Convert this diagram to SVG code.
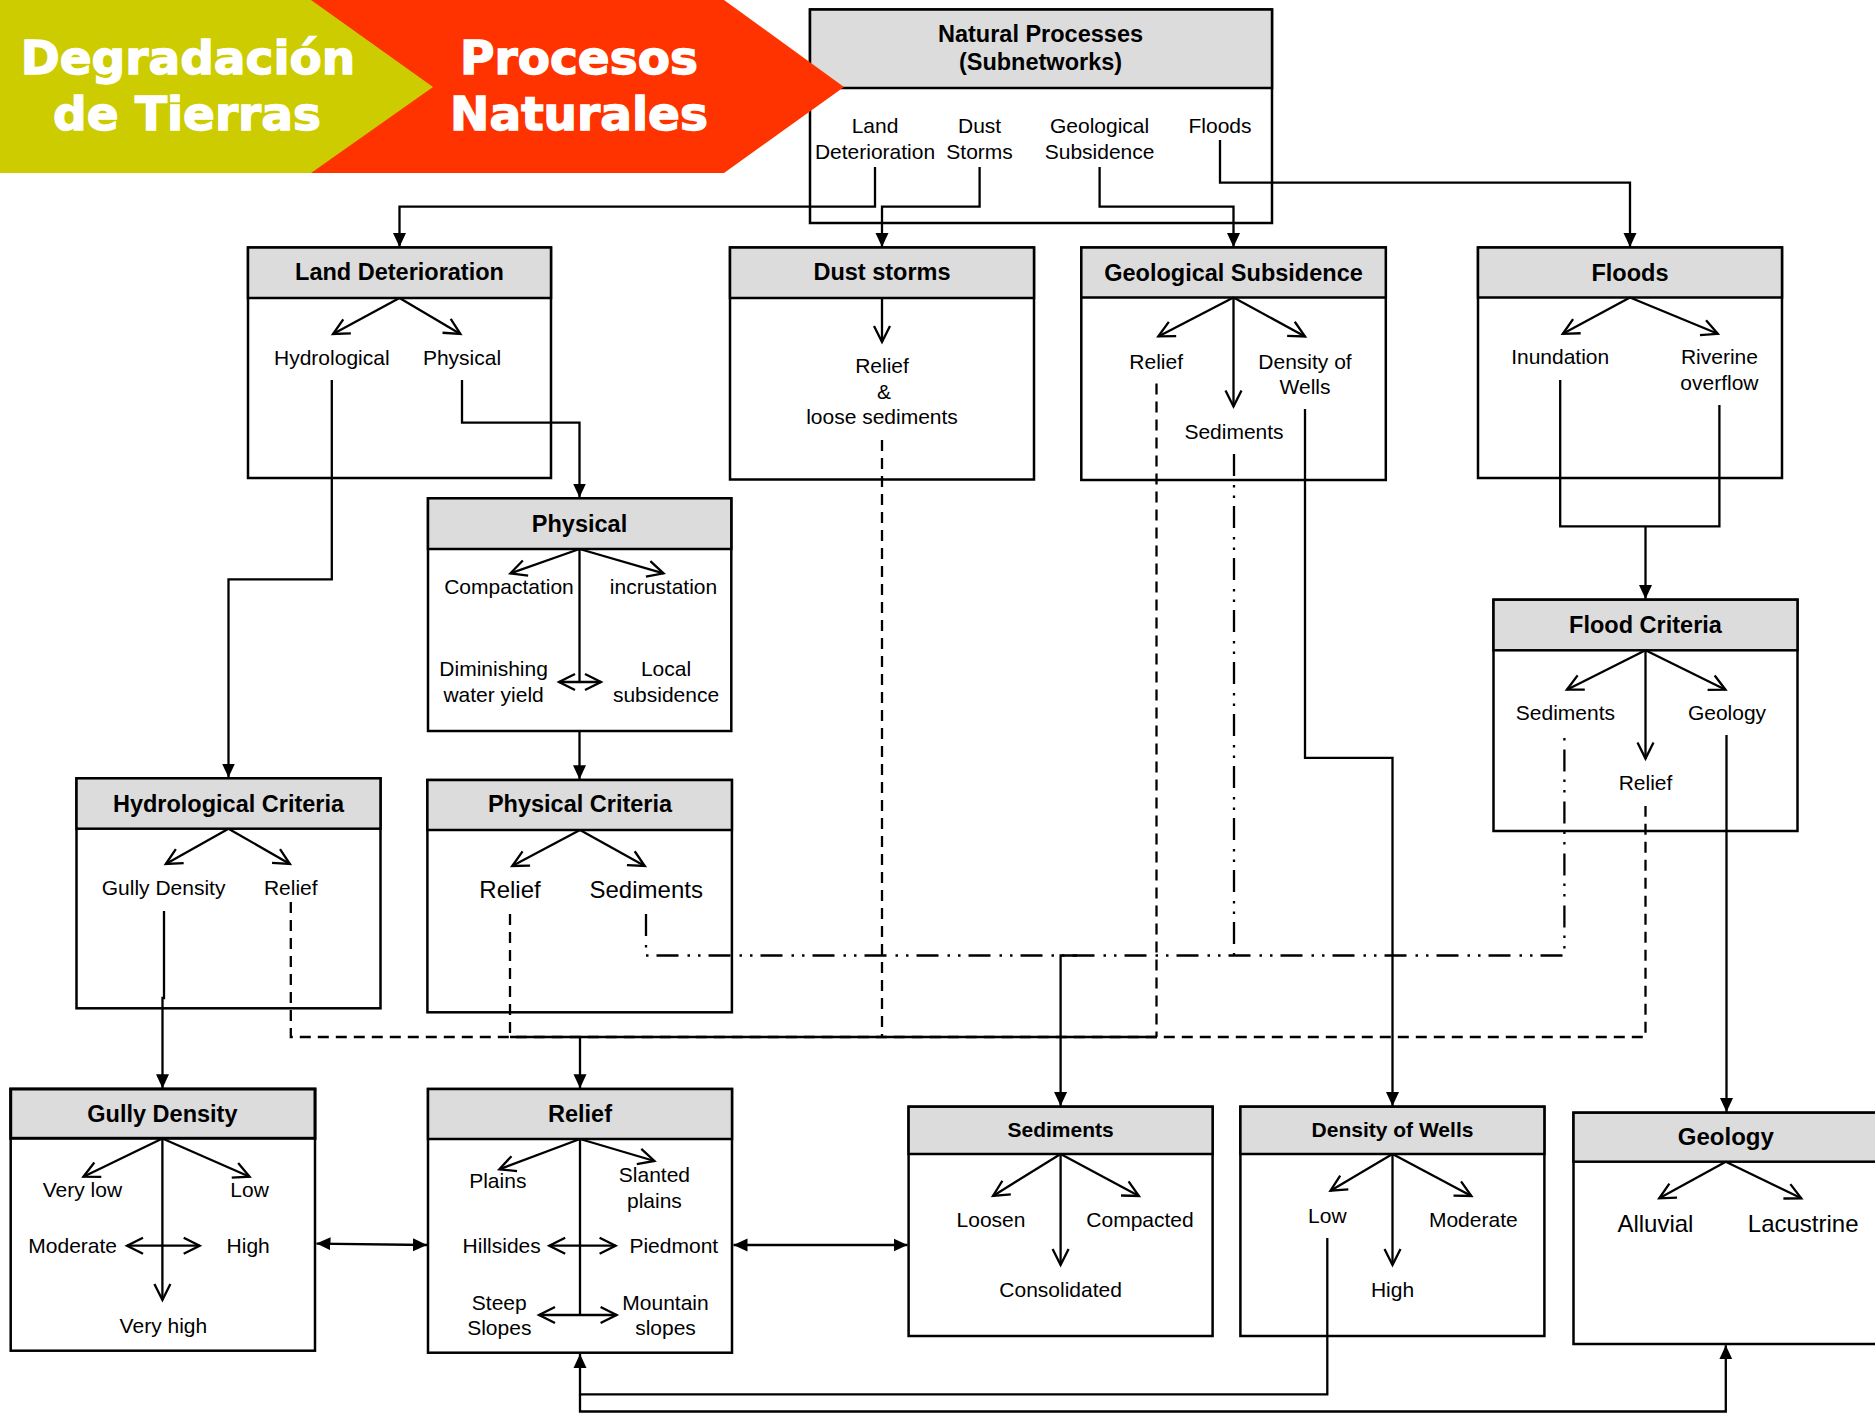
<svg xmlns="http://www.w3.org/2000/svg" width="1875" height="1414" viewBox="0 0 1875 1414">
<defs>
<style>
.box{fill:#fff;stroke:#000;stroke-width:2.5}
.hdr{fill:#dcdcdc;stroke:#000;stroke-width:2.5}
text{font-family:"Liberation Sans",Arial,sans-serif;font-size:21px;text-anchor:middle;fill:#000}
.tb{font-weight:bold;font-size:23.5px}
.ts{font-weight:bold;font-size:21px}
.tl{font-size:24px}
.ban{font-family:"DejaVu Sans",sans-serif;font-weight:bold;font-size:47px;fill:#fff;stroke:#fff;stroke-width:1.4}
.ln{fill:none;stroke:#000;stroke-width:2.3}
.ar{marker-end:url(#fa)}
.dbl{marker-start:url(#fa);marker-end:url(#fa)}
.fk{fill:none;stroke:#000;stroke-width:2.3;marker-end:url(#oa)}
.fk2{fill:none;stroke:#000;stroke-width:2.3;marker-start:url(#oa);marker-end:url(#oa)}
.dash{stroke-dasharray:11,7}
.dd{stroke-dasharray:22,9,2.5,8,2.5,8}
</style>
<marker id="fa" viewBox="0 0 14 14" refX="14" refY="7" markerWidth="14" markerHeight="14" markerUnits="userSpaceOnUse" orient="auto-start-reverse"><path d="M0,0.5 L14,7 L0,13.5 z" fill="#000"/></marker>
<marker id="oa" viewBox="0 0 20 20" refX="17" refY="10" markerWidth="20" markerHeight="20" markerUnits="userSpaceOnUse" orient="auto-start-reverse"><path d="M1,2 L17,10 L1,18" fill="none" stroke="#000" stroke-width="2.3"/></marker>
</defs>
<rect width="1875" height="1414" fill="#fff"/>

<g id="natural-processes">
<rect class="box" x="810" y="9.5" width="462" height="213.5"/>
<rect class="hdr" x="810" y="9.5" width="462" height="78.5"/>
<text class="tb" x="1040.5" y="42">Natural Processes</text>
<text class="tb" x="1040.5" y="70">(Subnetworks)</text>
<text x="875" y="133">Land</text><text x="875" y="159">Deterioration</text>
<text x="979.6" y="133">Dust</text><text x="979.6" y="159">Storms</text>
<text x="1099.6" y="133">Geological</text><text x="1099.6" y="159">Subsidence</text>
<text x="1220" y="133">Floods</text>
</g>

<g id="banner">
<polygon points="0,0 312,0 434,87 312,173 0,173" fill="#cccc00"/>
<polygon points="311,0 724,0 844,87 724,173 311,173 433,87" fill="#ff3300"/>
<text class="ban" x="188" y="74">Degradación</text>
<text class="ban" x="187" y="130">de Tierras</text>
<text class="ban" x="579" y="74">Procesos</text>
<text class="ban" x="579" y="130">Naturales</text>
</g>

<g id="land-deterioration">
<rect class="box" x="248" y="247.5" width="303" height="230.5"/>
<rect class="hdr" x="248" y="247.5" width="303" height="50.5"/>
<text class="tb" x="399.5" y="280">Land Deterioration</text>
<path class="fk" d="M399.5,298 L333,334"/><path class="fk" d="M399.5,298 L460.4,334"/>
<text x="331.8" y="365">Hydrological</text><text x="462" y="365">Physical</text>
</g>

<g id="dust-storms">
<rect class="box" x="730" y="247.5" width="304" height="232"/>
<rect class="hdr" x="730" y="247.5" width="304" height="50.5"/>
<text class="tb" x="882" y="280">Dust storms</text>
<path class="fk" d="M882,298 L882,342"/>
<text x="882" y="373.3">Relief</text><text x="884" y="399">&amp;</text><text x="882" y="424.3">loose sediments</text>
</g>

<g id="geological-subsidence">
<rect class="box" x="1081.3" y="247.5" width="304.5" height="232.5"/>
<rect class="hdr" x="1081.3" y="247.5" width="304.5" height="50"/>
<text class="tb" x="1233.5" y="280.5">Geological Subsidence</text>
<path class="fk" d="M1233.5,297.5 L1158.3,336.4"/><path class="fk" d="M1233.5,297.5 L1305,336.4"/><path class="fk" d="M1233.5,297.5 L1233.5,406.5"/>
<text x="1156.2" y="369.4">Relief</text><text x="1305" y="369.4">Density of</text><text x="1305" y="394">Wells</text><text x="1234" y="439">Sediments</text>
</g>

<g id="floods">
<rect class="box" x="1478" y="247.5" width="304" height="230.5"/>
<rect class="hdr" x="1478" y="247.5" width="304" height="50"/>
<text class="tb" x="1630" y="280.5">Floods</text>
<path class="fk" d="M1630,297.5 L1562.8,333.8"/><path class="fk" d="M1630,297.5 L1717.8,333.8"/>
<text x="1560.2" y="364.4">Inundation</text><text x="1719.4" y="364.4">Riverine</text><text x="1719.4" y="390">overflow</text>
</g>

<g id="physical">
<rect class="box" x="428" y="498.3" width="303.3" height="232.7"/>
<rect class="hdr" x="428" y="498.3" width="303.3" height="50.7"/>
<text class="tb" x="579.5" y="531.5">Physical</text>
<path class="fk" d="M579.5,549 L510.4,573.3"/><path class="fk" d="M579.5,549 L663.5,573.3"/>
<path class="ln" d="M579.5,549 V682"/><path class="fk2" d="M559,682 H601"/>
<text x="509" y="594">Compactation</text><text x="663.5" y="594">incrustation</text>
<text x="493.6" y="676">Diminishing</text><text x="493.6" y="701.7">water yield</text>
<text x="666" y="676">Local</text><text x="666" y="702">subsidence</text>
</g>

<g id="hydrological-criteria">
<rect class="box" x="76.5" y="778.3" width="304" height="230"/>
<rect class="hdr" x="76.5" y="778.3" width="304" height="50.4"/>
<text class="tb" x="228.5" y="811.7">Hydrological Criteria</text>
<path class="fk" d="M228.5,828.7 L165.8,864"/><path class="fk" d="M228.5,828.7 L289.9,864"/>
<text x="163.6" y="895">Gully  Density</text><text x="290.8" y="895">Relief</text>
</g>

<g id="physical-criteria">
<rect class="box" x="427.4" y="780" width="304.5" height="232.3"/>
<rect class="hdr" x="427.4" y="780" width="304.5" height="50"/>
<text class="tb" x="580" y="812.3">Physical Criteria</text>
<path class="fk" d="M580,830 L512.2,866"/><path class="fk" d="M580,830 L644.8,866"/>
<text class="tl" x="510" y="898.3">Relief</text><text class="tl" x="646.2" y="898.3">Sediments</text>
</g>

<g id="flood-criteria">
<rect class="box" x="1493.5" y="599.7" width="304" height="231.3"/>
<rect class="hdr" x="1493.5" y="599.7" width="304" height="50.6"/>
<text class="tb" x="1645.5" y="633">Flood Criteria</text>
<path class="fk" d="M1645.5,650.3 L1566.9,689.7"/><path class="fk" d="M1645.5,650.3 L1725.5,689.7"/><path class="fk" d="M1645.5,650.3 L1645.5,758.6"/>
<text x="1565.4" y="720.3">Sediments</text><text x="1727" y="720.3">Geology</text><text x="1645.5" y="790.3">Relief</text>
</g>

<g id="gully-density">
<rect class="box" x="10.7" y="1089" width="304.3" height="261.7"/>
<rect class="hdr" x="10.7" y="1089" width="304.3" height="49.3" style="stroke-width:3"/>
<text class="tb" x="162.4" y="1121.7">Gully Density</text>
<path class="fk" d="M162.4,1138.5 L83.4,1176.7"/><path class="fk" d="M162.4,1138.5 L249.6,1176.7"/><path class="fk" d="M162.4,1138.5 L162.4,1300"/>
<path class="fk2" d="M127,1245.7 H199.7"/>
<text x="82.4" y="1196.7">Very low</text><text x="249.6" y="1196.7">Low</text>
<text x="72.7" y="1253.3">Moderate</text><text x="248.2" y="1253.3">High</text>
<text x="163.4" y="1333">Very high</text>
</g>

<g id="relief">
<rect class="box" x="428" y="1089" width="304" height="263.7"/>
<rect class="hdr" x="428" y="1089" width="304" height="50"/>
<text class="tb" x="580" y="1122">Relief</text>
<path class="fk" d="M580,1139 L499.3,1169.3"/><path class="fk" d="M580,1139 L654.4,1161"/>
<path class="ln" d="M580,1139 V1315"/>
<path class="fk2" d="M549.2,1245.7 H615.6"/><path class="fk2" d="M539,1315 H616.6"/>
<text x="497.8" y="1188.3">Plains</text><text x="654.4" y="1181.7">Slanted</text><text x="654.4" y="1207.7">plains</text>
<text x="501.7" y="1253.3">Hillsides</text><text x="673.8" y="1253.3">Piedmont</text>
<text x="499.3" y="1310">Steep</text><text x="499.3" y="1335">Slopes</text>
<text x="665.5" y="1310">Mountain</text><text x="665.5" y="1335">slopes</text>
</g>

<g id="sediments">
<rect class="box" x="908.6" y="1106.7" width="304" height="229.3"/>
<rect class="hdr" x="908.6" y="1106.7" width="304" height="47.3"/>
<text class="ts" x="1060.6" y="1136.7">Sediments</text>
<path class="fk" d="M1060.6,1154 L993,1196"/><path class="fk" d="M1060.6,1154 L1138.9,1196"/><path class="fk" d="M1060.6,1154 L1060.6,1265"/>
<text x="991" y="1227.3">Loosen</text><text x="1140" y="1227.3">Compacted</text><text x="1060.6" y="1297.3">Consolidated</text>
</g>

<g id="density-of-wells">
<rect class="box" x="1240.4" y="1106.7" width="304" height="229.3"/>
<rect class="hdr" x="1240.4" y="1106.7" width="304" height="47.3"/>
<text class="ts" x="1392.5" y="1136.7">Density of Wells</text>
<path class="fk" d="M1392.5,1154 L1330.5,1190.7"/><path class="fk" d="M1392.5,1154 L1471.4,1196"/><path class="fk" d="M1392.5,1154 L1392.5,1265"/>
<text x="1327.3" y="1222.7">Low</text><text x="1473.3" y="1227.3">Moderate</text><text x="1392.5" y="1297">High</text>
</g>

<g id="geology">
<rect class="box" x="1573.5" y="1112.7" width="310" height="231.3"/>
<rect class="hdr" x="1573.5" y="1112.7" width="310" height="49"/>
<text class="tb" x="1725.8" y="1145" style="font-size:24px">Geology</text>
<path class="fk" d="M1725.8,1161.7 L1659.2,1198.3"/><path class="fk" d="M1725.8,1161.7 L1801.3,1198.3"/>
<text class="tl" x="1655.4" y="1231.7">Alluvial</text><text class="tl" x="1803.2" y="1231.7">Lacustrine</text>
</g>

<g id="connectors">
<path class="ln ar" d="M875,167 V206.7 H399.5 V247"/>
<path class="ln ar" d="M979.6,167 V206.7 H882 V247"/>
<path class="ln ar" d="M1099.6,167 V206.7 H1233.5 V247"/>
<path class="ln ar" d="M1220,140 V182.7 H1630 V247"/>
<path class="ln ar" d="M331.8,380 V579.3 H228.5 V777.5"/>
<path class="ln ar" d="M462,380 V422.7 H579.5 V497.5"/>
<path class="ln ar" d="M579.5,731 V779.3"/>
<path class="ln ar" d="M164,911 V998 H162.5 V1088.3"/>
<path class="ln ar" d="M1305,409 V757.8 H1392.5 V1106"/>
<path class="ln" d="M1560.2,380 V526.3 H1719.4 V405"/>
<path class="ln ar" d="M1645.5,526.3 V599"/>
<path class="ln ar" d="M1726.5,735 V1112"/>
<path class="ln dash" d="M290.8,902 V1037 H1645.5 V806"/>
<path class="ln dash" d="M510,914 V1037"/>
<path class="ln dash" d="M882,440 V1037"/>
<path class="ln dash" d="M1156.5,383.5 V1037"/>
<path class="ln" d="M510,1037 H1157"/>
<path class="ln ar" d="M580,1037 V1088.3"/>
<path class="ln dd" d="M646,914 V955.5 H1564.4 V736"/>
<path class="ln dd" d="M1234,454 V955.5"/>
<path class="ln ar" d="M1077,955.5 H1060.6 V1106"/>
<path class="ln dbl" d="M316.5,1243.6 L427,1245"/>
<path class="ln dbl" d="M733.5,1245 H907.5"/>
<path class="ln ar" d="M1327.3,1238 V1394.3 H580 V1354"/>
<path class="ln ar" d="M580,1394.3 V1411.5 H1725.8 V1345.3"/>
</g>
</svg>
